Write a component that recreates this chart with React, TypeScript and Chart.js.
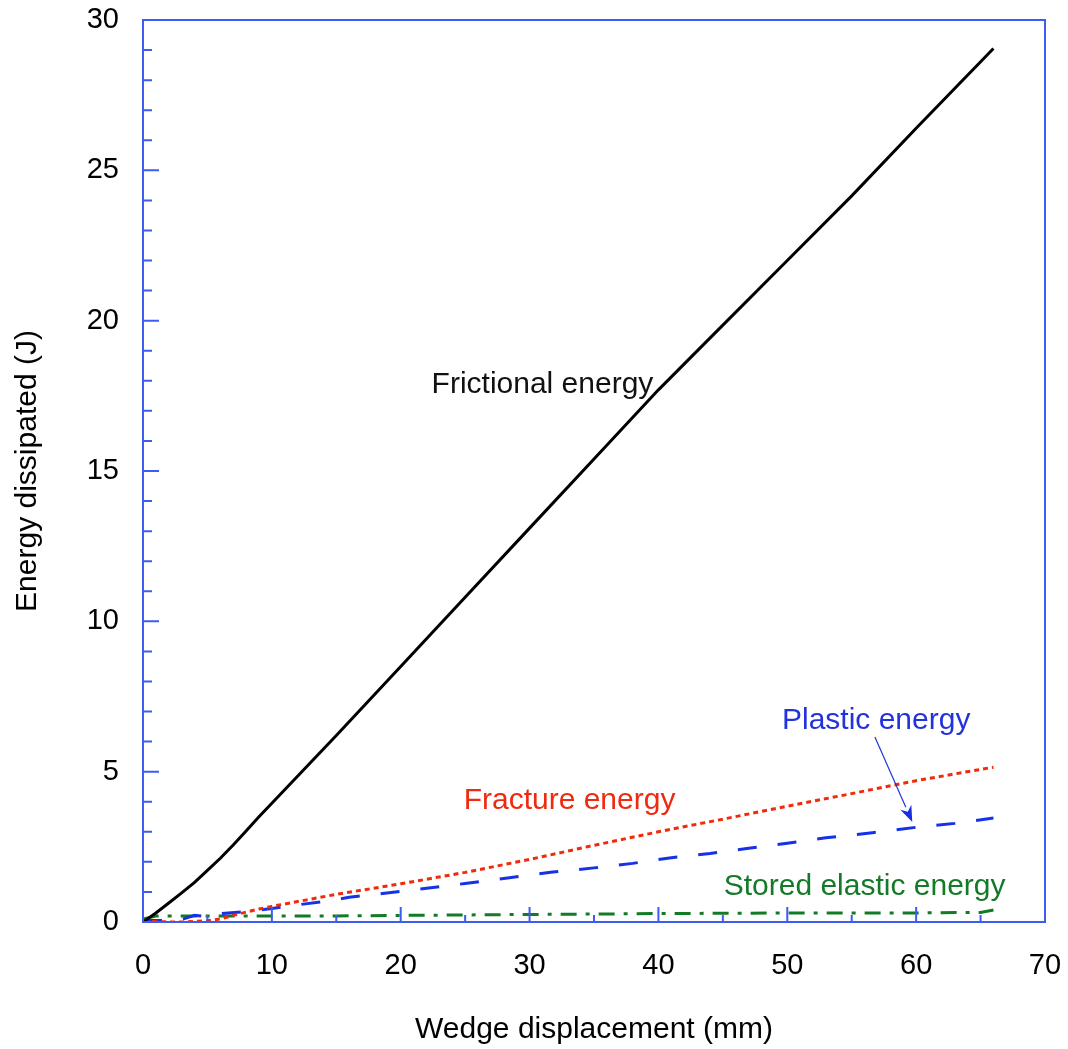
import React, { useEffect, useRef } from "react";
import { Chart, registerables } from "chart.js";

Chart.register(...registerables);

// ---- data ----
const frictionalX = [0, 1, 2, 3, 4, 5, 6, 7, 8, 9, 10, 15, 20, 25, 30, 35, 40, 45, 50, 55, 60, 66];
const frictionalY = [0, 0.3, 0.63, 0.97, 1.32, 1.72, 2.12, 2.56, 3.03, 3.5, 3.95, 6.2, 8.5, 10.8, 13.1, 15.4, 17.7, 19.85, 22.0, 24.15, 26.4, 29.05];

const fractureX = [0, 1, 2, 3, 4, 5, 6, 7, 8, 9, 10, 12, 15, 20, 25, 30, 35, 40, 45, 50, 55, 60, 66];
const fractureY = [0, 0.02, 0, 0, 0.02, 0.04, 0.1, 0.22, 0.33, 0.43, 0.52, 0.68, 0.92, 1.27, 1.65, 2.08, 2.55, 3.0, 3.42, 3.85, 4.27, 4.7, 5.15];

const plasticX = [0, 1, 2, 3, 4, 5, 6, 8, 10, 12, 14, 16, 18, 20, 22.5, 25, 28, 31.8, 35, 38, 41, 44, 47, 50, 53, 56.6, 60, 63, 66];
const plasticY = [0.05, 0.05, 0.05, 0.08, 0.22, 0.18, 0.28, 0.35, 0.45, 0.57, 0.68, 0.82, 0.92, 1.02, 1.15, 1.28, 1.45, 1.66, 1.8, 1.95, 2.14, 2.28, 2.45, 2.62, 2.8, 2.97, 3.15, 3.28, 3.46];

const elasticX = [0, 1, 5, 10, 15, 20, 30, 40, 50, 60, 65, 66];
const elasticY = [0.1, 0.2, 0.2, 0.2, 0.2, 0.22, 0.25, 0.28, 0.3, 0.3, 0.32, 0.4];

const xTickLabels = ["0", "10", "20", "30", "40", "50", "60", "70"];
const yTickLabels = ["0", "5", "10", "15", "20", "25", "30"];

const xTitle = "Wedge displacement (mm)";
const yTitle = "Energy dissipated (J)";

// annotation texts, anchored in data coordinates
const annotations = [
  { text: "Frictional energy", x: 31.0, y: 17.86, color: "#111111" },
  { text: "Fracture energy", x: 33.1, y: 4.02, color: "#ee2a10" },
  { text: "Plastic energy", x: 56.9, y: 6.69, color: "#2233dd" },
  { text: "Stored elastic energy", x: 56.0, y: 1.16, color: "#157a28" },
];
const arrowFrom = { x: 56.8, y: 6.15 };
const arrowTo = { x: 59.7, y: 3.33 };

const BLUE_AXIS = "#3d5cf2";
const FONT = "'Liberation Sans', Arial, sans-serif";

const pts = (xs: number[], ys: number[]) => xs.map((x, i) => ({ x, y: ys[i] }));

const framePlugin = {
  id: "frame",
  afterDatasetsDraw(chart: any) {
    const { ctx, chartArea: a, scales } = chart;
    const xs = scales.x;
    const ys = scales.y;
    ctx.save();
    ctx.strokeStyle = BLUE_AXIS;
    ctx.lineWidth = 2;
    ctx.strokeRect(a.left, a.top, a.right - a.left, a.bottom - a.top);
    ctx.lineWidth = 2;
    ctx.beginPath();
    for (let v = 0; v <= 70; v += 5) {
      const px = xs.getPixelForValue(v);
      const len = v % 10 === 0 ? 15 : 7;
      ctx.moveTo(px, a.bottom);
      ctx.lineTo(px, a.bottom - len);
    }
    for (let v = 0; v <= 30; v += 1) {
      const py = ys.getPixelForValue(v);
      const len = v % 5 === 0 ? 16 : 9;
      ctx.moveTo(a.left, py);
      ctx.lineTo(a.left + len, py);
    }
    ctx.stroke();

    // annotations
    ctx.font = `30px ${FONT}`;
    ctx.textAlign = "center";
    ctx.textBaseline = "middle";
    for (const an of annotations) {
      ctx.fillStyle = an.color;
      ctx.fillText(an.text, xs.getPixelForValue(an.x), ys.getPixelForValue(an.y));
    }

    // arrow
    const x1 = xs.getPixelForValue(arrowFrom.x);
    const y1 = ys.getPixelForValue(arrowFrom.y);
    const x2 = xs.getPixelForValue(arrowTo.x);
    const y2 = ys.getPixelForValue(arrowTo.y);
    const ang = Math.atan2(y2 - y1, x2 - x1);
    const hl = 16;
    const hw = 6;
    const bx = x2 - hl * Math.cos(ang);
    const by = y2 - hl * Math.sin(ang);
    ctx.strokeStyle = "#2233dd";
    ctx.fillStyle = "#1a2ee0";
    ctx.lineWidth = 1.2;
    ctx.beginPath();
    ctx.moveTo(x1, y1);
    ctx.lineTo(bx, by);
    ctx.stroke();
    ctx.beginPath();
    ctx.moveTo(x2, y2);
    ctx.lineTo(bx + hw * Math.sin(ang), by - hw * Math.cos(ang));
    ctx.lineTo(x2 - (hl * 0.7) * Math.cos(ang), y2 - (hl * 0.7) * Math.sin(ang));
    ctx.lineTo(bx - hw * Math.sin(ang), by + hw * Math.cos(ang));
    ctx.closePath();
    ctx.fill();
    ctx.restore();
  },
};

export default function App() {
  const ref = useRef<HTMLCanvasElement | null>(null);
  useEffect(() => {
    document.body.style.margin = "0";
    if (!ref.current) return;
    const chart = new Chart(ref.current, {
      type: "line",
      data: {
        datasets: [
          {
            label: "Frictional energy",
            data: pts(frictionalX, frictionalY),
            borderColor: "#000000",
            borderWidth: 3,
            pointRadius: 0,
            tension: 0,
          },
          {
            label: "Fracture energy",
            data: pts(fractureX, fractureY),
            borderColor: "#f02a0a",
            borderWidth: 3,
            borderDash: [5, 4],
            pointRadius: 0,
            tension: 0,
          },
          {
            label: "Plastic energy",
            data: pts(plasticX, plasticY),
            borderColor: "#1632e8",
            borderWidth: 3,
            borderDash: [19, 21],
            pointRadius: 0,
            tension: 0,
          },
          {
            label: "Stored elastic energy",
            data: pts(elasticX, elasticY),
            borderColor: "#137a26",
            borderWidth: 3,
            borderDash: [16, 9, 4, 9],
            pointRadius: 0,
            tension: 0,
          },
        ],
      },
      options: {
        animation: false,
        responsive: false,
        devicePixelRatio: 1,
        layout: { padding: { top: 20, right: 23, left: 0, bottom: 0 } },
        plugins: { legend: { display: false }, tooltip: { enabled: false } },
        scales: {
          x: {
            type: "linear",
            min: 0,
            max: 70,
            grid: { display: false },
            border: { display: false },
            ticks: {
              stepSize: 10,
              padding: 19,
              color: "#000",
              font: { family: FONT, size: 29 },
              callback: (v: any) => {
                const i = xTickLabels.indexOf(String(v));
                return i >= 0 ? xTickLabels[i] : "";
              },
            },
            title: {
              display: true,
              text: xTitle,
              color: "#000",
              font: { family: FONT, size: 30 },
              padding: { top: 0, bottom: 1 },
            },
            afterFit: (s: any) => {
              s.height = 127;
              s.paddingLeft = 0;
              s.paddingRight = 0;
            },
          },
          y: {
            type: "linear",
            min: 0,
            max: 30,
            grid: { display: false },
            border: { display: false },
            ticks: {
              stepSize: 5,
              padding: 16,
              color: "#000",
              font: { family: FONT, size: 29 },
              callback: (v: any) => {
                const i = yTickLabels.indexOf(String(v));
                return i >= 0 ? yTickLabels[i] : "";
              },
            },
            title: {
              display: true,
              text: yTitle,
              color: "#000",
              font: { family: FONT, size: 30 },
              padding: { top: 10, bottom: 0 },
            },
            afterFit: (s: any) => {
              s.width = 143;
              s.paddingTop = 0;
              s.paddingBottom = 0;
            },
          },
        },
      },
      plugins: [framePlugin],
    } as any);
    return () => chart.destroy();
  }, []);
  return (
    <canvas
      ref={ref}
      width={1068}
      height={1049}
      style={{ display: "block", width: 1068, height: 1049, background: "#fff" }}
    />
  );
}
